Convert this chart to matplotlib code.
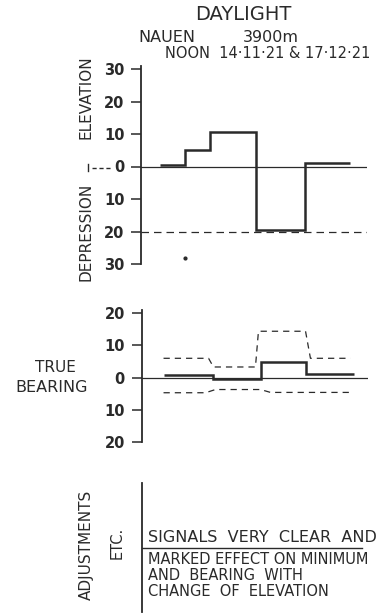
import numpy as np
import matplotlib.pyplot as plt

plt.rcParams['font.family'] = ['DejaVu Sans']

W, H = 378, 613
ink = '#2a2a2a'

# elevation / depression (degrees), steps
elev_edges = [1.0, 2.35, 3.65, 6.1, 8.7, 11.1]
elev_values = [0.5, 5, 10.5, -19.5, 1]
dot_x, dot_y = [2.35], [-28]

# true bearing, steps
bear_edges = [1.17, 3.77, 6.32, 8.76, 11.26]
bear_values = [0.8, -0.5, 5, 1]
upper_x = [1.17, 3.56, 3.82, 6.05, 6.21, 8.71, 8.97, 11.1]
upper_y = [6, 6, 3.3, 3.3, 14.4, 14.4, 6, 6]
lower_x = [1.17, 3.4, 3.93, 6.32, 6.85, 11.1]
lower_y = [-4.7, -4.7, -3.7, -3.7, -4.6, -4.6]

elev_ticks = [30, 20, 10, 0, -10, -20, -30]
elev_labels = ['30', '20', '10', '0', '10', '20', '30']
bear_ticks = [20, 10, 0, -10, -20]
bear_labels = ['20', '10', '0', '10', '20']

notes = ['MARKED EFFECT ON MINIMUM', 'AND  BEARING  WITH', 'CHANGE  OF  ELEVATION']


def box(x0, y0, x1, y1):
    # pixel box (top-left origin) -> figure fraction
    return [x0 / W, 1 - y1 / H, (x1 - x0) / W, (y1 - y0) / H]


def style(ax):
    for s in ['top', 'right', 'bottom']:
        ax.spines[s].set_visible(False)
    ax.spines['left'].set_color(ink)
    ax.spines['left'].set_linewidth(1.3)
    ax.set_xticks([])
    ax.tick_params(axis='y', length=7, width=1.1, color=ink, pad=5,
                   labelsize=10.5, labelcolor=ink)
    ax.patch.set_alpha(0)


fig = plt.figure(figsize=(W / 100, H / 100), dpi=100)

# top panel
ax1 = fig.add_axes(box(141, 65.75, 367, 264))
style(ax1)
ax1.set_xlim(0, 12)
ax1.set_ylim(-30, 31)
ax1.set_yticks(elev_ticks)
ax1.set_yticklabels(elev_labels, fontweight='bold')
ax1.axhline(0, color=ink, lw=0.9)
ax1.axhline(-20, color=ink, lw=0.9, ls=(0, (6, 4)))
ax1.stairs(elev_values, elev_edges, baseline=None, color=ink, lw=1.8)
ax1.plot(dot_x, dot_y, 'o', color=ink, ms=2)

# middle panel
ax2 = fig.add_axes(box(141.5, 310, 367.5, 442))
style(ax2)
ax2.set_xlim(0, 12)
ax2.set_ylim(-20, 21)
ax2.set_yticks(bear_ticks)
ax2.set_yticklabels(bear_labels, fontweight='bold')
ax2.axhline(0, color=ink, lw=0.9)
ax2.stairs(bear_values, bear_edges, baseline=None, color=ink, lw=1.8)
ax2.plot(upper_x, upper_y, color=ink, lw=0.9, ls=(0, (5, 4)))
ax2.plot(lower_x, lower_y, color=ink, lw=0.9, ls=(0, (5, 4)))

# bottom panel
ax3 = fig.add_axes(box(142, 483, 367, 612))
style(ax3)
ax3.set_yticks([])
ax3.set_xlim(0, 1)
ax3.set_ylim(0, 1)

# texts in pixel coords
def ftext(x, y, s, **kw):
    fig.text(x / W, 1 - y / H, s, color=ink, **kw)

ftext(243, 15, 'DAYLIGHT', fontsize=14, ha='center', va='center')
ftext(138, 38, 'NAUEN', fontsize=11.5, ha='left', va='center')
ftext(243, 38, '3900m', fontsize=11.5, ha='left', va='center')
ftext(165, 54, 'NOON  14·11·21 & 17·12·21', fontsize=10.5, ha='left', va='center')
ftext(86, 97, 'ELEVATION', fontsize=11, rotation=90, ha='center', va='center')
ftext(86, 232, 'DEPRESSION', fontsize=11, rotation=90, ha='center', va='center')
ftext(55, 368, 'TRUE', fontsize=11, ha='center', va='center')
ftext(52, 387, 'BEARING', fontsize=11.5, ha='center', va='center')
ftext(86, 545, 'ADJUSTMENTS', fontsize=11, rotation=90, ha='center', va='center')
ftext(117, 543, 'ETC.', fontsize=10.5, rotation=90, ha='center', va='center')

ftext(148, 537, 'SIGNALS  VERY  CLEAR  AND', fontsize=11.5, ha='left', va='center')
for i, line in enumerate(notes):
    ftext(148, 559 + 16 * i, line, fontsize=10.5, ha='left', va='center')

# separators
fig.add_artist(plt.Line2D([142 / W, 362 / W], [1 - 548 / H] * 2, color=ink, lw=1.0))
fig.add_artist(plt.Line2D([92 / W, 112 / W], [1 - 168 / H] * 2, color=ink, lw=1.0,
                          ls=(0, (3, 2))))
fig.add_artist(plt.Line2D([88 / W, 88 / W], [1 - 164 / H, 1 - 171 / H], color=ink, lw=1.0))

fig.savefig('out.png', dpi=100)
